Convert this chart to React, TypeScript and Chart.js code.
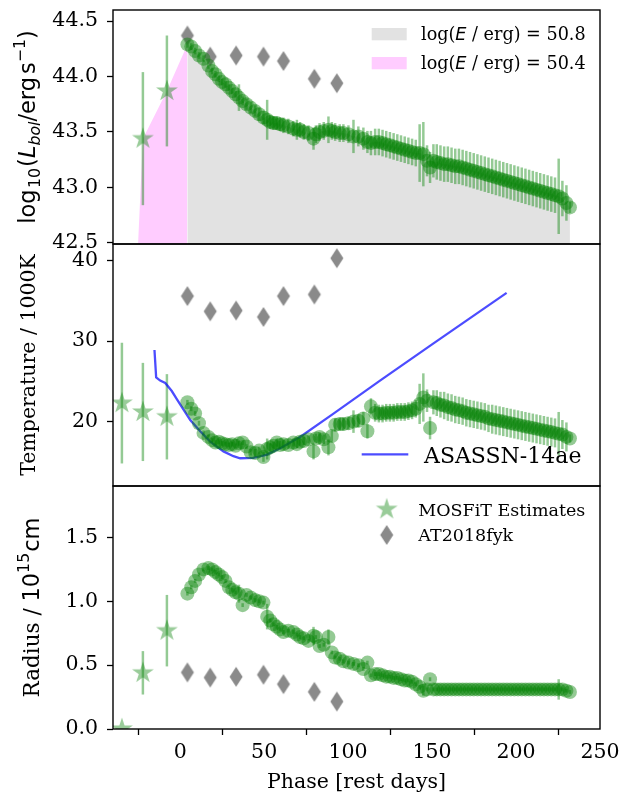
import React, { useEffect, useRef } from 'react';
import { Chart, registerables } from 'chart.js';

Chart.register(...registerables);

// ---------------- data ----------------
const PHASE = [
  4.3, 6.6, 8.9, 11.2, 13.9, 16.8, 19.0, 21.0, 23.0, 25.0,
  27.0, 29.0, 31.0, 33.0, 35.0, 37.2, 39.5, 42.0, 44.6, 47.0,
  49.6, 51.8, 53.6, 55.5, 57.5, 59.5, 61.5, 64.4, 67.4, 69.5,
  71.4, 73.6, 76.4, 79.4, 80.8, 83.0, 85.5, 88.3, 90.3, 92.3,
  95.0, 97.2, 100.2, 103.2, 106.1, 109.1, 111.5, 113.6, 116.1, 118.3,
  120.5, 122.7, 124.9, 127.1, 129.3, 131.5, 133.7, 135.9, 138.1, 140.3,
  142.6, 144.8, 147.0, 148.8, 150.8, 152.8, 155.0, 157.2, 159.4, 161.6,
  163.8, 166.0, 168.2, 170.4, 172.6, 174.8, 177.0, 179.2, 181.4, 183.6,
  185.8, 188.0, 190.2, 192.4, 194.6, 196.8, 199.0, 201.2, 203.4, 205.6,
  207.8, 210.0, 212.2, 214.4, 216.6, 218.8, 221.0, 223.2, 225.4, 227.6,
  230.0, 232.1,
];
const LOG_L = [
  44.29, 44.27, 44.23, 44.19, 44.16, 44.10, 44.05, 44.02, 43.98, 43.95,
  43.93, 43.90, 43.87, 43.84, 43.81, 43.78, 43.75, 43.72, 43.69, 43.66,
  43.63, 43.61, 43.59, 43.58, 43.58, 43.57, 43.56, 43.55, 43.53, 43.52,
  43.52, 43.50, 43.49, 43.44, 43.48, 43.50, 43.51, 43.52, 43.51, 43.50,
  43.49, 43.49, 43.48, 43.46, 43.46, 43.44, 43.41, 43.40, 43.41, 43.41,
  43.40, 43.39, 43.38, 43.37, 43.36, 43.35, 43.34, 43.33, 43.32, 43.31,
  43.31, 43.30, 43.24, 43.18, 43.24, 43.23, 43.22, 43.21, 43.21, 43.20,
  43.19, 43.19, 43.18, 43.17, 43.16, 43.15, 43.14, 43.13, 43.12, 43.11,
  43.10, 43.09, 43.08, 43.07, 43.06, 43.05, 43.04, 43.03, 43.02, 43.01,
  43.00, 42.99, 42.98, 42.97, 42.96, 42.95, 42.94, 42.93, 42.92, 42.90,
  42.86, 42.82,
];
const LOG_L_ERR = [
  0.03, 0.03, 0.03, 0.03, 0.03, 0.03, 0.03, 0.03, 0.03, 0.03,
  0.03, 0.03, 0.03, 0.03, 0.12, 0.04, 0.05, 0.05, 0.05, 0.06,
  0.06, 0.18, 0.06, 0.06, 0.06, 0.06, 0.07, 0.07, 0.07, 0.09,
  0.07, 0.07, 0.07, 0.10, 0.08, 0.08, 0.08, 0.12, 0.08, 0.08,
  0.08, 0.08, 0.08, 0.15, 0.09, 0.10, 0.10, 0.11, 0.12, 0.12,
  0.12, 0.12, 0.12, 0.12, 0.12, 0.12, 0.12, 0.12, 0.12, 0.12,
  0.26, 0.29, 0.14, 0.14, 0.15, 0.16, 0.16, 0.16, 0.16, 0.16,
  0.16, 0.16, 0.16, 0.16, 0.16, 0.16, 0.16, 0.16, 0.16, 0.16,
  0.16, 0.16, 0.16, 0.16, 0.16, 0.16, 0.16, 0.16, 0.16, 0.16,
  0.16, 0.16, 0.16, 0.16, 0.16, 0.16, 0.16, 0.16, 0.34, 0.16,
  0.16, 0.05,
];
const TEMP = [
  22.4, 21.6, 21.0, 19.8, 18.6, 18.1, 17.7, 17.4, 17.5, 17.3,
  17.2, 17.1, 17.2, 17.0, 17.3, 17.4, 16.9, 16.2, 16.1, 16.4,
  15.6, 16.6, 16.8, 17.0, 17.4, 17.1, 17.2, 17.1, 17.4, 17.2,
  17.5, 17.6, 17.8, 16.3, 17.9, 18.1, 17.8, 16.8, 18.2, 19.6,
  19.7, 19.7, 19.8, 20.0, 20.1, 20.4, 18.8, 21.9, 21.1, 21.0,
  21.0, 21.1, 21.1, 21.1, 21.2, 21.2, 21.2, 21.3, 21.4, 21.6,
  22.2, 23.0, 22.6, 19.2, 22.4, 22.3, 22.1, 22.0, 21.8, 21.7,
  21.5, 21.4, 21.3, 21.1, 21.0, 20.9, 20.8, 20.7, 20.6, 20.4,
  20.3, 20.2, 20.1, 20.0, 19.9, 19.8, 19.7, 19.6, 19.5, 19.4,
  19.3, 19.2, 19.1, 19.0, 18.9, 18.8, 18.7, 18.6, 18.5, 18.4,
  18.1, 17.9,
];
const TEMP_ERR = [
  0.3, 0.3, 0.3, 0.3, 0.3, 0.3, 0.3, 0.3, 0.3, 0.3,
  0.3, 0.3, 0.3, 0.3, 0.3, 0.3, 0.3, 0.4, 0.5, 0.5,
  0.6, 1.3, 0.5, 0.5, 0.5, 0.5, 0.5, 0.5, 0.5, 0.5,
  0.5, 0.5, 0.5, 1.0, 0.6, 0.6, 0.6, 1.0, 0.7, 0.8,
  0.8, 0.8, 0.8, 1.4, 0.8, 0.8, 0.9, 1.0, 1.1, 1.1,
  1.1, 1.1, 1.1, 1.1, 1.1, 1.1, 1.1, 1.1, 1.1, 1.1,
  2.5, 3.0, 1.4, 1.4, 1.5, 1.6, 1.6, 1.7, 1.7, 1.7,
  1.7, 1.7, 1.7, 1.7, 1.7, 1.7, 1.7, 1.7, 1.7, 1.7,
  1.8, 1.8, 1.8, 1.8, 1.8, 1.8, 1.8, 1.8, 1.8, 1.8,
  1.8, 1.8, 1.8, 1.8, 1.8, 1.8, 1.8, 1.8, 2.7, 1.8,
  1.8, 0.5,
];
const RADIUS = [
  1.06, 1.11, 1.16, 1.21, 1.25, 1.26, 1.25, 1.23, 1.21, 1.19,
  1.16, 1.11, 1.09, 1.07, 1.06, 0.97, 1.05, 1.03, 1.01, 1.00,
  0.99, 0.88, 0.85, 0.82, 0.80, 0.78, 0.76, 0.77, 0.76, 0.74,
  0.72, 0.71, 0.69, 0.73, 0.72, 0.65, 0.66, 0.72, 0.60, 0.56,
  0.55, 0.53, 0.52, 0.51, 0.50, 0.47, 0.52, 0.42, 0.43, 0.43,
  0.42, 0.41, 0.41, 0.40, 0.40, 0.39, 0.38, 0.38, 0.37, 0.35,
  0.33, 0.30, 0.31, 0.39, 0.31, 0.31, 0.31, 0.31, 0.31, 0.31,
  0.31, 0.31, 0.31, 0.31, 0.31, 0.31, 0.31, 0.31, 0.31, 0.31,
  0.31, 0.31, 0.31, 0.31, 0.31, 0.31, 0.31, 0.31, 0.31, 0.31,
  0.31, 0.31, 0.31, 0.31, 0.31, 0.31, 0.31, 0.31, 0.31, 0.31,
  0.30, 0.29,
];
const RADIUS_ERR = [
  0.015, 0.015, 0.015, 0.015, 0.015, 0.015, 0.015, 0.015, 0.015, 0.015,
  0.015, 0.015, 0.015, 0.015, 0.07, 0.015, 0.015, 0.015, 0.015, 0.015,
  0.015, 0.10, 0.015, 0.015, 0.015, 0.015, 0.015, 0.015, 0.015, 0.015,
  0.015, 0.015, 0.015, 0.07, 0.015, 0.015, 0.015, 0.06, 0.015, 0.015,
  0.015, 0.015, 0.015, 0.015, 0.015, 0.015, 0.015, 0.015, 0.015, 0.015,
  0.015, 0.015, 0.015, 0.015, 0.015, 0.015, 0.015, 0.015, 0.015, 0.015,
  0.015, 0.04, 0.015, 0.015, 0.015, 0.015, 0.015, 0.015, 0.015, 0.015,
  0.015, 0.015, 0.015, 0.015, 0.015, 0.015, 0.015, 0.015, 0.015, 0.015,
  0.015, 0.015, 0.015, 0.015, 0.015, 0.015, 0.015, 0.015, 0.015, 0.015,
  0.015, 0.015, 0.015, 0.015, 0.015, 0.015, 0.015, 0.015, 0.08, 0.015,
  0.015, 0.015,
];

const MOSFIT_PHASE = [-34.7, -22.2, -7.9];
const MOSFIT_LOG_L = [39.3, 43.44, 43.87];
const MOSFIT_LOG_L_ERR = [0, 0.6, 0.5];
const MOSFIT_TEMP = [22.3, 21.2, 20.6];
const MOSFIT_TEMP_ERR = [7.5, 6.1, 5.3];
const MOSFIT_RADIUS = [0.0, 0.44, 0.77];
const MOSFIT_RADIUS_ERR = [0, 0.17, 0.28];

const FYK_PHASE = [4.3, 17.9, 33.3, 49.6, 61.5, 79.9, 93.3];
const FYK_LOG_L = [44.37, 44.18, 44.19, 44.18, 44.14, 43.98, 43.94];
const FYK_TEMP = [35.6, 33.7, 33.8, 33.0, 35.6, 35.8, 40.3];
const FYK_RADIUS = [0.443, 0.403, 0.409, 0.425, 0.351, 0.291, 0.215];

const ASASSN_PHASE = [-15.3, -14.3, -11.9, -8.9, -5.0, -2.0, 2.0, 6.0, 11.9, 17.9, 25.8, 31.7, 35.7, 43.6, 51.6, 59.5, 71.4, 91.3, 119.0, 150.0, 194.4];
const ASASSN_TEMP = [28.9, 25.5, 25.1, 24.8, 23.8, 22.8, 21.5, 20.2, 18.8, 17.5, 16.3, 15.7, 15.45, 15.5, 15.9, 16.7, 18.1, 21.0, 25.1, 29.6, 36.0];

const X_TICKS = [0, 50, 100, 150, 200, 250];
const L_TICKS = [42.5, 43.0, 43.5, 44.0, 44.5];
const T_TICKS = [20, 30, 40];
const R_TICKS = [0.0, 0.5, 1.0, 1.5];

// ---------------- styles ----------------
const W = 639;
const H = 798;
const PLOT_LEFT = 113;
const PLOT_RIGHT = 600;
const PANELS = [
  { top: 3, bottom: 244 },
  { top: 244, bottom: 486 },
  { top: 486, bottom: 729 },
];
const F = 20.5;
const FM = 22.5;
const SERIF = 'DejaVu Serif';
const SANS = 'DejaVu Sans';
const GREEN = 'rgba(0,128,0,0.42)';
const STAR_GREEN = 'rgba(0,128,0,0.4)';
const GREY = 'rgb(138,138,138)';
const BLUE = 'rgba(0,0,255,0.7)';

type Seg = { t: string; f: string; dy?: number; gap?: number };

function drawRich(ctx: CanvasRenderingContext2D, segs: Seg[], x: number, y: number, rot: number, align: 'center' | 'left') {
  ctx.save();
  ctx.translate(x, y);
  ctx.rotate(rot);
  ctx.fillStyle = '#000';
  ctx.textBaseline = 'alphabetic';
  ctx.textAlign = 'left';
  const ws = segs.map((s) => {
    ctx.font = s.f;
    return ctx.measureText(s.t).width + (s.gap || 0);
  });
  const total = ws.reduce((a, b) => a + b, 0);
  let cx = align === 'center' ? -total / 2 : 0;
  segs.forEach((s, i) => {
    ctx.font = s.f;
    ctx.fillText(s.t, cx, s.dy || 0);
    cx += ws[i];
  });
  ctx.restore();
}

function makeStar(R: number, fill: string) {
  const size = Math.ceil(R) * 2 + 2;
  const c = document.createElement('canvas');
  c.width = size;
  c.height = size;
  const g = c.getContext('2d')!;
  g.translate(size / 2, size / 2);
  g.beginPath();
  for (let k = 0; k < 10; k++) {
    const a = -Math.PI / 2 + (k * Math.PI) / 5;
    const r = k % 2 === 0 ? R : R * 0.381966;
    const px = r * Math.cos(a);
    const py = r * Math.sin(a);
    if (k === 0) g.moveTo(px, py);
    else g.lineTo(px, py);
  }
  g.closePath();
  g.fillStyle = fill;
  g.fill();
  return c;
}

function makeDiamond(w: number, h: number, fill: string) {
  const cw = Math.ceil(w / 2) * 2 + 2;
  const chh = Math.ceil(h / 2) * 2 + 2;
  const c = document.createElement('canvas');
  c.width = cw;
  c.height = chh;
  const g = c.getContext('2d')!;
  g.translate(cw / 2, chh / 2);
  g.beginPath();
  g.moveTo(0, -h / 2);
  g.lineTo(w / 2, 0);
  g.lineTo(0, h / 2);
  g.lineTo(-w / 2, 0);
  g.closePath();
  g.fillStyle = fill;
  g.fill();
  return c;
}

const pts = (xs: number[], ys: number[]) => xs.map((x, i) => ({ x, y: ys[i] }));
const bars = (xs: number[], ys: number[], es: number[]) => xs.map((x, i) => ({ x, y: [ys[i] - es[i], ys[i] + es[i]] }));

const tickFont = { family: SERIF, size: F };

function makeOptions(panel: { top: number; bottom: number }, yMin: number, yMax: number, yTicks: number[], fmt: (v: number) => string, showX: boolean) {
  return {
    responsive: false,
    animation: false,
    devicePixelRatio: 1,
    events: [],
    layout: {
      padding: { left: 0, right: W - PLOT_RIGHT, top: panel.top, bottom: showX ? 0 : H - panel.bottom },
    },
    plugins: { legend: { display: false }, tooltip: { enabled: false } },
    scales: {
      x: {
        type: 'linear',
        min: -40,
        max: 250,
        offset: false,
        display: showX,
        afterBuildTicks: (s: any) => {
          s.ticks = X_TICKS.map((v) => ({ value: v }));
        },
        afterFit: (s: any) => {
          if (showX) s.height = H - panel.bottom;
          s.paddingLeft = 0;
          s.paddingRight = 0;
        },
        ticks: { color: '#000', font: tickFont, padding: 5, maxRotation: 0, autoSkip: false, callback: (v: any) => String(v) },
        grid: { display: true, drawOnChartArea: false, drawTicks: true, tickLength: 6, tickWidth: 1.3, tickColor: '#000' },
        border: { display: false },
        title: { display: showX, text: 'Phase [rest days]', color: '#000', font: tickFont, padding: { top: 0, bottom: 3 } },
      },
      y: {
        type: 'linear',
        min: yMin,
        max: yMax,
        stacked: false,
        afterBuildTicks: (s: any) => {
          s.ticks = yTicks.map((v) => ({ value: v }));
        },
        afterFit: (s: any) => {
          s.width = PLOT_LEFT;
          s.paddingTop = 0;
          s.paddingBottom = 0;
        },
        ticks: { color: '#000', font: tickFont, padding: 9, autoSkip: false, callback: (v: any) => fmt(Number(v)) },
        grid: { display: true, drawOnChartArea: false, drawTicks: true, tickLength: 6, tickWidth: 1.3, tickColor: '#000' },
        border: { display: false },
      },
    },
  };
}

const framePlugin = {
  id: 'frame',
  afterDatasetsDraw(chart: any) {
    const { left, top, right, bottom } = chart.chartArea;
    const ctx = chart.ctx;
    ctx.save();
    ctx.strokeStyle = '#000';
    ctx.lineWidth = 1.4;
    ctx.strokeRect(left, top, right - left, bottom - top);
    ctx.restore();
  },
};

function overlay(draw: (ctx: CanvasRenderingContext2D, chart: any) => void) {
  return {
    id: 'overlay',
    afterDraw(chart: any) {
      const ctx = chart.ctx;
      ctx.save();
      draw(ctx, chart);
      ctx.restore();
    },
  };
}

export default function App() {
  const r1 = useRef<HTMLCanvasElement>(null);
  const r2 = useRef<HTMLCanvasElement>(null);
  const r3 = useRef<HTMLCanvasElement>(null);

  useEffect(() => {
    const star = makeStar(11.5, STAR_GREEN);
    const diamond = makeDiamond(13, 20, GREY);
    const SM = FM * 0.7;

    const errDs = (data: any[]) => ({
      type: 'bar',
      data,
      backgroundColor: GREEN,
      borderWidth: 0,
      barThickness: 2.5,
      inflateAmount: 0,
      order: 5,
      clip: 0,
    });
    const circleDs = (data: any[]) => ({
      type: 'scatter',
      data,
      pointStyle: 'circle',
      pointRadius: 7,
      backgroundColor: GREEN,
      borderWidth: 0,
      order: 2,
      clip: 0,
    });
    const fykDs = (data: any[]) => ({
      type: 'scatter',
      data,
      pointStyle: diamond,
      pointRadius: 8,
      backgroundColor: GREY,
      borderWidth: 0,
      order: 3,
      clip: 0,
    });
    const starDs = (data: any[]) => ({
      type: 'scatter',
      data,
      pointStyle: star,
      pointRadius: 10,
      backgroundColor: STAR_GREEN,
      borderWidth: 0,
      order: 1,
      clip: 0,
    });

    // ---- panel 1: luminosity ----
    const pinkFill = pts(MOSFIT_PHASE, MOSFIT_LOG_L).concat([{ x: PHASE[0], y: LOG_L[0] }]);
    const c1 = new Chart(r1.current!, {
      type: 'scatter',
      data: {
        datasets: [
          { type: 'line', data: pinkFill, fill: 'start', backgroundColor: '#ffccff', borderColor: 'rgba(0,0,0,0)', borderWidth: 1, pointRadius: 0, order: 9, clip: 0 },
          { type: 'line', data: pts(PHASE, LOG_L), fill: 'start', backgroundColor: 'rgb(226,226,226)', borderColor: 'rgba(0,0,0,0)', borderWidth: 1, pointRadius: 0, order: 8, clip: 0 },
          errDs(bars(PHASE, LOG_L, LOG_L_ERR).concat(bars(MOSFIT_PHASE, MOSFIT_LOG_L, MOSFIT_LOG_L_ERR))),
          fykDs(pts(FYK_PHASE, FYK_LOG_L)),
          circleDs(pts(PHASE, LOG_L)),
          starDs(pts(MOSFIT_PHASE, MOSFIT_LOG_L)),
        ] as any,
      },
      options: makeOptions(PANELS[0], 42.49, 44.6, L_TICKS, (v) => v.toFixed(1), false) as any,
      plugins: [
        framePlugin,
        overlay((ctx, chart) => {
          const ca = chart.chartArea;
          drawRich(ctx, [
            { t: 'log', f: `${FM}px ${SANS}`, gap: 1.5 },
            { t: '10', f: `${SM}px ${SANS}`, dy: 5, gap: 1 },
            { t: '(', f: `${FM}px ${SANS}` },
            { t: 'L', f: `italic ${FM}px ${SANS}` },
            { t: 'bol', f: `italic ${SM}px ${SANS}`, dy: 5 },
            { t: '/erg', f: `${FM}px ${SANS}`, gap: 3 },
            { t: 's', f: `${FM}px ${SANS}` },
            { t: '\u22121', f: `${SM}px ${SANS}`, dy: -10 },
            { t: ')', f: `${FM}px ${SANS}` },
          ], 35, (ca.top + ca.bottom) / 2, -Math.PI / 2, 'center');
          const LF = 17.6;
          ctx.fillStyle = 'rgb(226,226,226)';
          ctx.fillRect(ca.right - 228.3, ca.top + 18, 35, 12.3);
          ctx.fillStyle = '#ffccff';
          ctx.fillRect(ca.right - 228.3, ca.top + 47, 35, 12.3);
          const lab = (val: string): Seg[] => [
            { t: 'log(', f: `${LF}px ${SERIF}` },
            { t: 'E', f: `italic ${LF}px ${SANS}` },
            { t: ' / erg) = ' + val, f: `${LF}px ${SERIF}` },
          ];
          drawRich(ctx, lab('50.8'), ca.right - 179, ca.top + 29.7, 0, 'left');
          drawRich(ctx, lab('50.4'), ca.right - 179, ca.top + 58.7, 0, 'left');
        }),
      ],
    });

    // ---- panel 2: temperature ----
    const c2 = new Chart(r2.current!, {
      type: 'scatter',
      data: {
        datasets: [
          errDs(bars(PHASE, TEMP, TEMP_ERR).concat(bars(MOSFIT_PHASE, MOSFIT_TEMP, MOSFIT_TEMP_ERR))),
          { type: 'line', data: pts(ASASSN_PHASE, ASASSN_TEMP), borderColor: BLUE, borderWidth: 2.3, pointRadius: 0, fill: false, tension: 0, order: 4, clip: 0 },
          fykDs(pts(FYK_PHASE, FYK_TEMP)),
          circleDs(pts(PHASE, TEMP)),
          starDs(pts(MOSFIT_PHASE, MOSFIT_TEMP)),
        ] as any,
      },
      options: makeOptions(PANELS[1], 12.0, 42.07, T_TICKS, (v) => v.toFixed(0), false) as any,
      plugins: [
        framePlugin,
        overlay((ctx, chart) => {
          const ca = chart.chartArea;
          drawRich(ctx, [{ t: 'Temperature / 1000K', f: `${F}px ${SERIF}` }], 35, (ca.top + ca.bottom) / 2, -Math.PI / 2, 'center');
          ctx.strokeStyle = BLUE;
          ctx.lineWidth = 2.3;
          ctx.beginPath();
          ctx.moveTo(ca.right - 238.3, ca.bottom - 31.7);
          ctx.lineTo(ca.right - 191.7, ca.bottom - 31.7);
          ctx.stroke();
          drawRich(ctx, [{ t: 'ASASSN-14ae', f: `22px ${SERIF}` }], ca.right - 176, ca.bottom - 23.3, 0, 'left');
        }),
      ],
    });

    // ---- panel 3: radius ----
    const c3 = new Chart(r3.current!, {
      type: 'scatter',
      data: {
        datasets: [
          errDs(bars(PHASE, RADIUS, RADIUS_ERR).concat(bars(MOSFIT_PHASE, MOSFIT_RADIUS, MOSFIT_RADIUS_ERR))),
          fykDs(pts(FYK_PHASE, FYK_RADIUS)),
          circleDs(pts(PHASE, RADIUS)),
          starDs(pts(MOSFIT_PHASE, MOSFIT_RADIUS)),
        ] as any,
      },
      options: makeOptions(PANELS[2], 0, 1.903, R_TICKS, (v) => v.toFixed(1), true) as any,
      plugins: [
        framePlugin,
        overlay((ctx, chart) => {
          const ca = chart.chartArea;
          drawRich(ctx, [
            { t: 'Radius / ', f: `${F + 1}px ${SERIF}` },
            { t: '10', f: `${FM}px ${SANS}` },
            { t: '15', f: `${SM}px ${SANS}`, dy: -10, gap: 1 },
            { t: 'cm', f: `${FM}px ${SANS}` },
          ], 39, (ca.top + ca.bottom) / 2, -Math.PI / 2, 'center');
          const LF = 17.5;
          ctx.drawImage(star, ca.right - 213.3 - star.width / 2, ca.top + 23.3 - star.height / 2);
          ctx.drawImage(diamond, ca.right - 213.3 - diamond.width / 2, ca.top + 49 - diamond.height / 2);
          drawRich(ctx, [{ t: 'MOSFiT Estimates', f: `${LF}px ${SERIF}` }], ca.right - 181.7, ca.top + 30, 0, 'left');
          drawRich(ctx, [{ t: 'AT2018fyk', f: `${LF}px ${SERIF}` }], ca.right - 181.7, ca.top + 55, 0, 'left');
        }),
      ],
    });

    return () => {
      c1.destroy();
      c2.destroy();
      c3.destroy();
    };
  }, []);

  const cs: React.CSSProperties = { position: 'absolute', left: 0, top: 0 };
  return (
    <div style={{ position: 'absolute', left: 0, top: 0, width: W, height: H }}>
      <canvas ref={r1} width={W} height={H} style={cs} />
      <canvas ref={r2} width={W} height={H} style={cs} />
      <canvas ref={r3} width={W} height={H} style={cs} />
    </div>
  );
}
